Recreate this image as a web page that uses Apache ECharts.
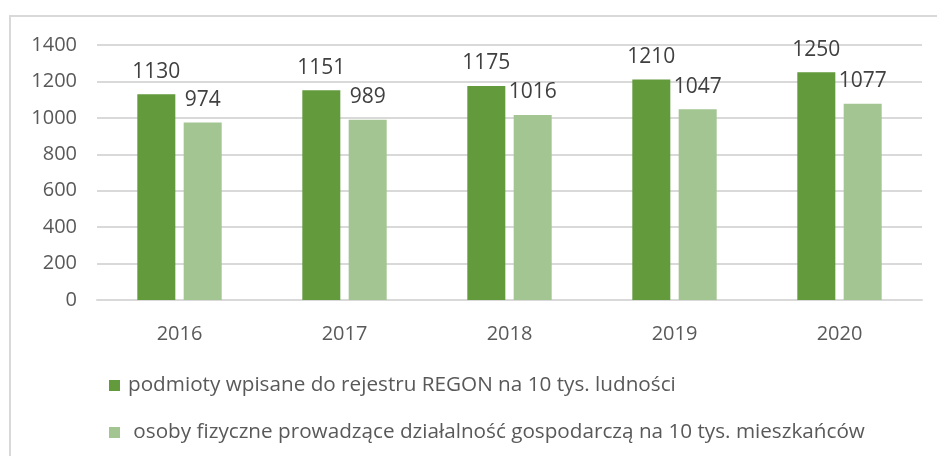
<!DOCTYPE html>
<html>
<head>
<meta charset="utf-8">
<script src="https://cdn.jsdelivr.net/npm/echarts@6/dist/echarts.min.js"></script>
<style>
  html, body { margin: 0; padding: 0; background: #fff; }
  #frame { position: absolute; left: 9px; top: 15px; width: 940px; height: 450px; border: 2px solid #d9d9d9; box-sizing: border-box; }
  #chart { position: absolute; left: 0; top: 0; width: 937px; height: 456px; }
</style>
</head>
<body>
<div id="frame"></div>
<div id="chart"></div>
<script>
// lata
var years = ['2016', '2017', '2018', '2019', '2020'];
// podmioty REGON na 10 tys. ludności
var regon = [1130, 1151, 1175, 1210, 1250];
// osoby fizyczne prowadzące działalność na 10 tys. mieszkańców
var osoby = [974, 989, 1016, 1047, 1077];

var seriesNames = [
  'podmioty wpisane do rejestru REGON na 10 tys. ludności',
  'osoby fizyczne prowadzące działalność gospodarczą na 10 tys. mieszkańców'
];

var font = 'Open Sans';
var chart = echarts.init(document.getElementById('chart'));
chart.setOption({
  animation: false,
  textStyle: { fontFamily: font },
  grid: { left: 97, right: 15, top: 45, bottom: 156 },
  legend: {
    orient: 'vertical',
    left: 104,
    top: 370,
    itemWidth: 11,
    itemHeight: 11,
    itemGap: 26,
    icon: 'rect',
    textStyle: { fontSize: 20.7, color: '#595959', fontFamily: font, padding: [0, 0, 0, 3] },
    formatter: function (name) {
      return name === seriesNames[1] ? ' ' + name : name;
    },
    data: seriesNames
  },
  xAxis: {
    type: 'category',
    data: years,
    axisLine: { lineStyle: { color: '#d9d9d9', width: 2 } },
    axisTick: { show: false },
    axisLabel: { fontSize: 20, color: '#595959', margin: 24 }
  },
  yAxis: {
    type: 'value',
    min: 0,
    max: 1400,
    interval: 200,
    axisLine: { show: false },
    axisTick: { show: false },
    axisLabel: { fontSize: 20, color: '#595959', margin: 20, formatter: function (v) { return String(v); } },
    splitLine: { lineStyle: { color: '#d9d9d9', width: 2 } }
  },
  series: [
    {
      name: seriesNames[0],
      type: 'bar',
      data: regon,
      barWidth: 38,
      barGap: '22%',
      itemStyle: { color: '#629a3c' },
      label: { show: true, position: 'top', distance: 12, fontSize: 21, color: '#404040' }
    },
    {
      name: seriesNames[1],
      type: 'bar',
      data: osoby,
      barWidth: 38,
      itemStyle: { color: '#a2c591' },
      label: { show: true, position: 'top', distance: 12, fontSize: 21, color: '#404040' }
    }
  ]
});
</script>
</body>
</html>
